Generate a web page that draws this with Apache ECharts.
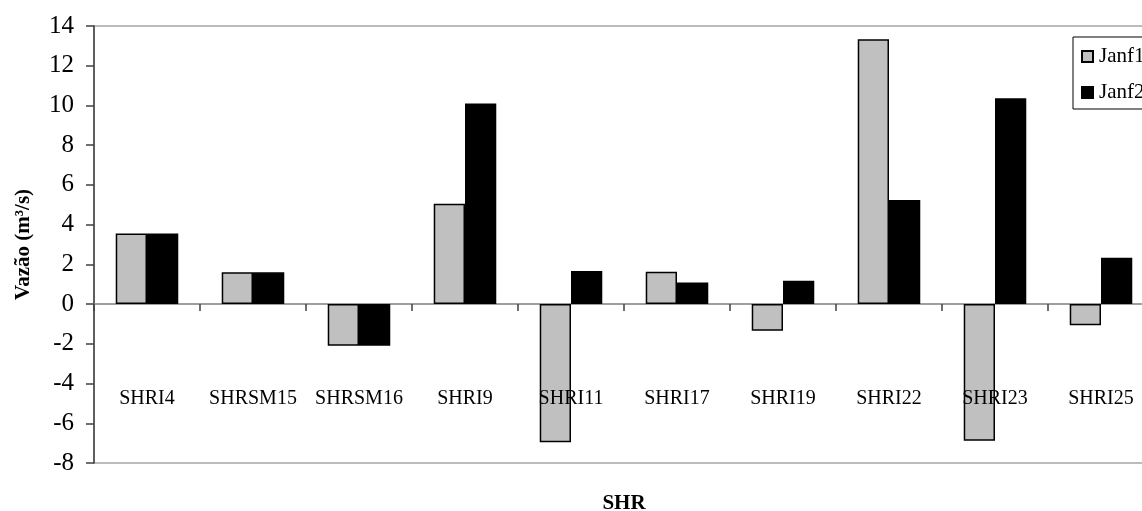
<!DOCTYPE html>
<html>
<head>
<meta charset="utf-8">
<script src="https://cdn.jsdelivr.net/npm/echarts@6/dist/echarts.min.js"></script>
<style>
html,body{margin:0;padding:0;background:#fff;}
#chart{width:1142px;height:511px;}
</style>
</head>
<body>
<div id="chart"></div>
<script>
const categories = ['SHRI4','SHRSM15','SHRSM16','SHRI9','SHRI11','SHRI17','SHRI19','SHRI22','SHRI23','SHRI25'];
const janf1 = [3.55, 1.6, -2.1, 5.05, -6.95, 1.63, -1.34, 13.33, -6.88, -1.06];
const janf2 = [3.55, 1.6, -2.1, 10.1, 1.66, 1.09, 1.17, 5.24, 10.36, 2.33];
const seriesNames = ['Janf1', 'Janf2'];

const FONT = 'Liberation Serif';
const chart = echarts.init(document.getElementById('chart'), null, {renderer: 'canvas'});
chart.setOption({
  backgroundColor: '#fff',
  animation: false,
  textStyle: {fontFamily: FONT, color: '#000'},
  grid: {
    left: 94, top: 26, width: 1060, height: 437,
    outerBoundsMode: 'none',
    show: true, borderColor: '#a6a6a6', borderWidth: 1.5, backgroundColor: 'transparent'
  },
  legend: {
    orient: 'vertical',
    left: 1073, top: 37,
    padding: [9, 40, 6, 8],
    backgroundColor: '#fff',
    borderColor: '#000', borderWidth: 1,
    itemWidth: 11, itemHeight: 11,
    itemGap: 15,
    icon: 'rect',
    textStyle: {fontFamily: FONT, fontSize: 21, color: '#000', padding: [0,0,0,1]},
    data: seriesNames
  },
  xAxis: [
    {
      type: 'category',
      data: categories,
      axisLine: {onZero: true, lineStyle: {color: '#808080', width: 1.5}},
      axisTick: {show: true, length: 7, lineStyle: {color: '#404040', width: 1.5}},
      axisLabel: {show: false}
    },
    {
      type: 'category',
      data: categories,
      position: 'bottom',
      z: 5,
      axisLine: {show: false, onZero: false},
      axisTick: {show: false},
      axisLabel: {show: true, margin: -74, fontFamily: FONT, fontSize: 20, color: '#000', interval: 0},
      name: 'SHR',
      nameLocation: 'middle',
      nameGap: 30,
      nameTextStyle: {fontFamily: FONT, fontSize: 21, fontWeight: 'bold', color: '#000'}
    }
  ],
  yAxis: {
    type: 'value',
    min: -8, max: 14, interval: 2,
    axisLine: {show: true, lineStyle: {color: '#404040', width: 1.5}},
    axisTick: {show: true, length: 8, lineStyle: {color: '#404040', width: 1.5}},
    splitLine: {show: false},
    axisLabel: {margin: 20, fontFamily: FONT, fontSize: 25, color: '#000', showMinLabel: true, showMaxLabel: true},
    name: 'Vazão (m³/s)',
    nameLocation: 'middle',
    nameGap: 60,
    nameTextStyle: {fontFamily: FONT, fontSize: 21, fontWeight: 'bold', color: '#000'}
  },
  series: [
    {
      name: seriesNames[0], type: 'bar', data: janf1, xAxisIndex: 0,
      barGap: '0%', barCategoryGap: '41%',
      itemStyle: {color: '#c0c0c0', borderColor: '#000', borderWidth: 1.5}
    },
    {
      name: seriesNames[1], type: 'bar', data: janf2, xAxisIndex: 0,
      barGap: '0%', barCategoryGap: '41%',
      itemStyle: {color: '#000', borderColor: '#000', borderWidth: 1.5}
    }
  ]
});
</script>
</body>
</html>
